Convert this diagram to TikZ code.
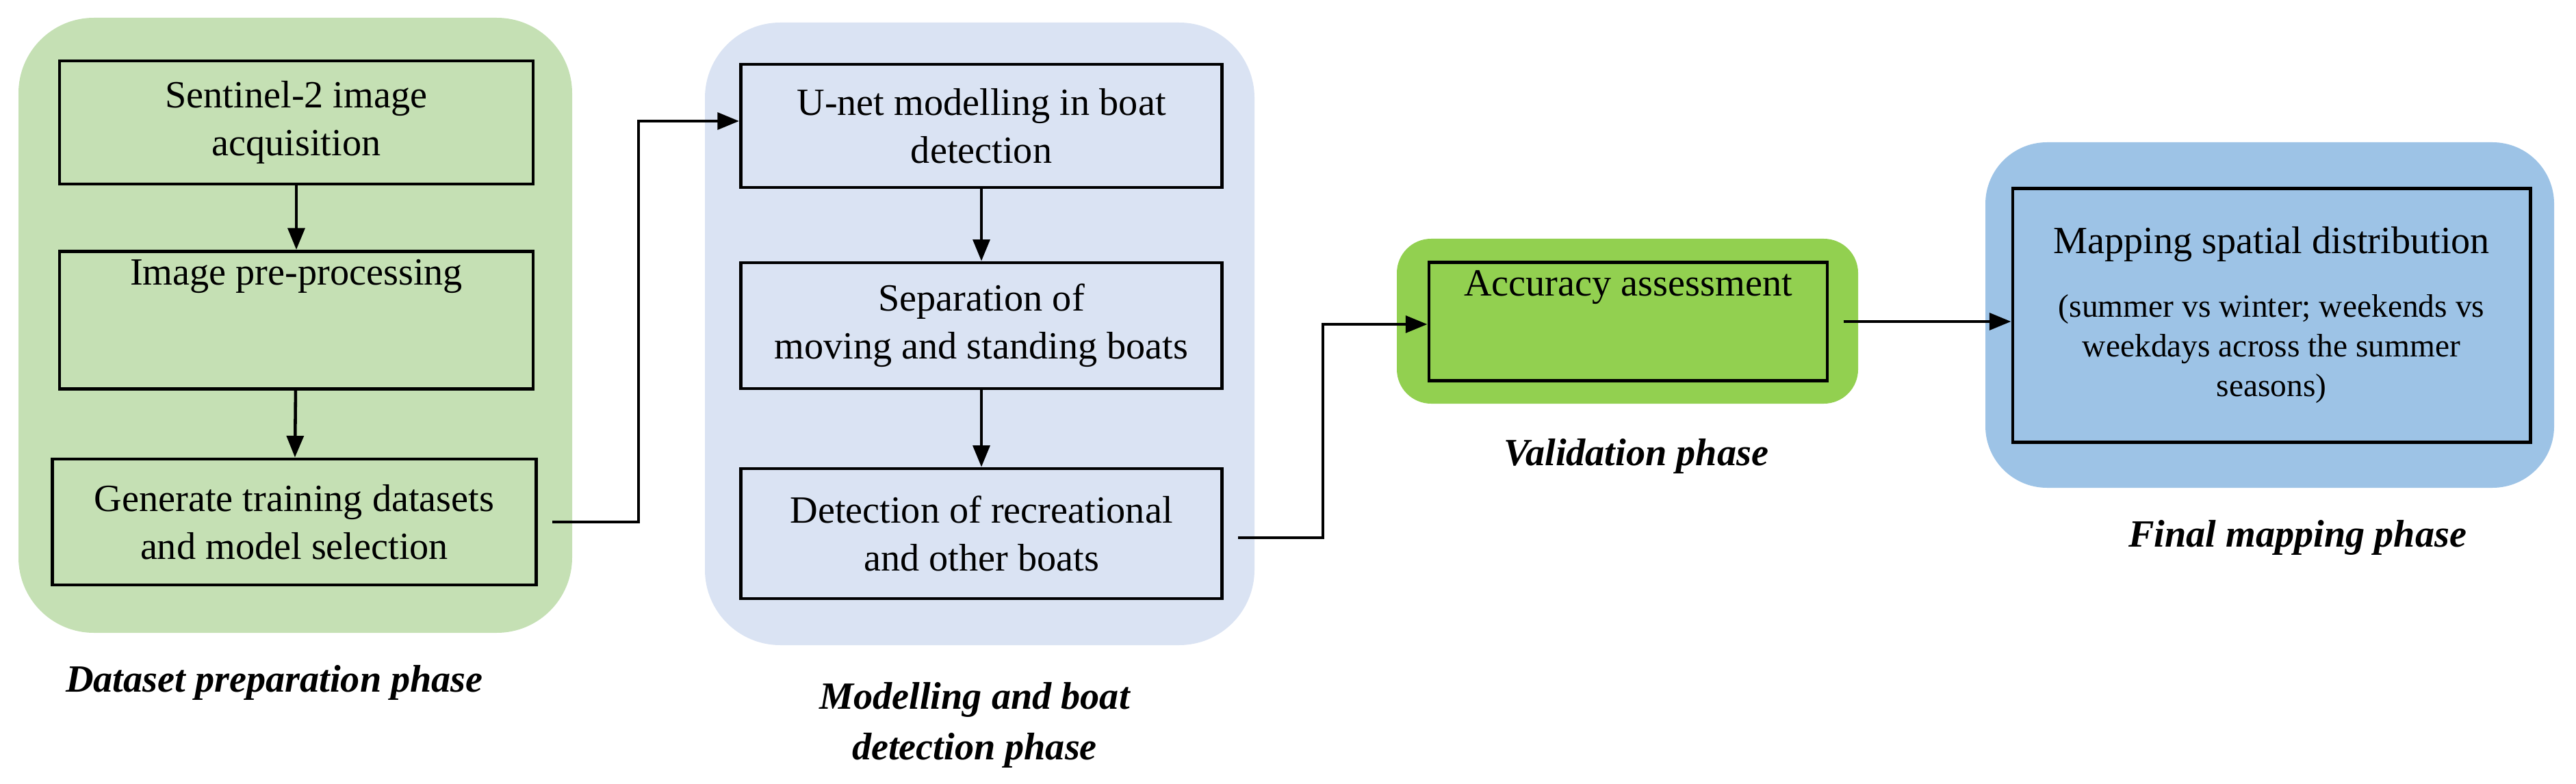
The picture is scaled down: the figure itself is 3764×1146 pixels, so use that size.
\documentclass[tikz,border=0pt]{standalone}
\usepackage{fontspec}
\setmainfont{Liberation Serif}
\usetikzlibrary{arrows.meta}
\definecolor{pgreen}{HTML}{C5E0B4}
\definecolor{pblue}{HTML}{DAE3F3}
\definecolor{vgreen}{HTML}{92D050}
\definecolor{fblue}{HTML}{9DC3E6}
\begin{document}
\begin{tikzpicture}[x=0.01cm,y=-0.01cm,
  stepbox/.style={draw=black,line width=1.3pt,align=center,font=\fontsize{16}{20}\selectfont},
  phase/.style={align=center,font=\fontsize{16}{21}\selectfont\bfseries\itshape},
  conn/.style={line width=1.3pt,-{Triangle[length=9pt,width=7pt]}}]
\useasboundingbox (0,0) rectangle (3764,1146);
% panels
\fill[pgreen,rounded corners=1.1cm] (27,26) rectangle (836,925);
\fill[pblue,rounded corners=1.1cm] (1030,33) rectangle (1833,943);
\fill[vgreen,rounded corners=0.5cm] (2041,349) rectangle (2715,590);
\fill[fblue,rounded corners=0.9cm] (2901,208) rectangle (3732,713);
% boxes
\node[stepbox,minimum width=692\pgflinewidth] (b1) at (433,179) [minimum width=6.92cm,minimum height=1.8cm] {Sentinel-2 image\\acquisition};
\node[stepbox,minimum width=6.92cm,minimum height=1.86cm] (b2) at (433,468) {Image pre-processing\\[20pt]};
\node[stepbox,minimum width=7.07cm,minimum height=1.84cm] (b3) at (430,763) {Generate training datasets\\and model selection};
\node[stepbox,minimum width=7.03cm,minimum height=1.8cm] (c1) at (1434,184) {U-net modelling in boat\\detection};
\node[stepbox,minimum width=7.03cm,minimum height=1.84cm] (c2) at (1434,476) {Separation of\\moving and standing boats};
\node[stepbox,minimum width=7.03cm,minimum height=1.9cm] (c3) at (1434,780) {Detection of recreational\\and other boats};
\node[stepbox,minimum width=5.82cm,minimum height=1.34cm] (v1) at (2379,470) {Accuracy assessment\\[12pt]};
\node[draw=black,line width=1.3pt,minimum width=7.56cm,minimum height=3.71cm] (f1) at (3319,461) {};
\node[font=\fontsize{16}{20}\selectfont] (f1t) at (3319,357) {Mapping spatial distribution};
\node[align=center,font=\fontsize{13.5}{16.5}\selectfont] (f1s) at (3319,510) {(summer vs winter; weekends vs\\weekdays across the summer\\seasons)};
% labels
\node[phase] (l1) at (401,998) {Dataset preparation phase};
\node[phase] (l2) at (1424,1060) {Modelling and boat\\detection phase};
\node[phase] (l3) at (2391,667) {Validation phase};
\node[phase] (l4) at (3357,786) {Final mapping phase};
% connectors
\draw[conn] (b1) -- (b2);
\draw[conn] (b2) -- (b3);
\draw[conn] (c1) -- (c2);
\draw[conn] (c2) -- (c3);
\coordinate (k1) at (933,763);
\coordinate (k2) at (933,177);
\draw[conn] ([xshift=6pt]b3.east) -- (k1) -- (k2) -- (k2 -| c1.west);
\coordinate (m1) at (1933,786);
\coordinate (m2) at (1933,474);
\draw[conn] ([xshift=6pt]c3.east |- m1) -- (m1) -- (m2) -- (m2 -| v1.west);
\draw[conn] ([xshift=6pt]v1.east) -- (v1.east -| f1.west);
\end{tikzpicture}
\end{document}
